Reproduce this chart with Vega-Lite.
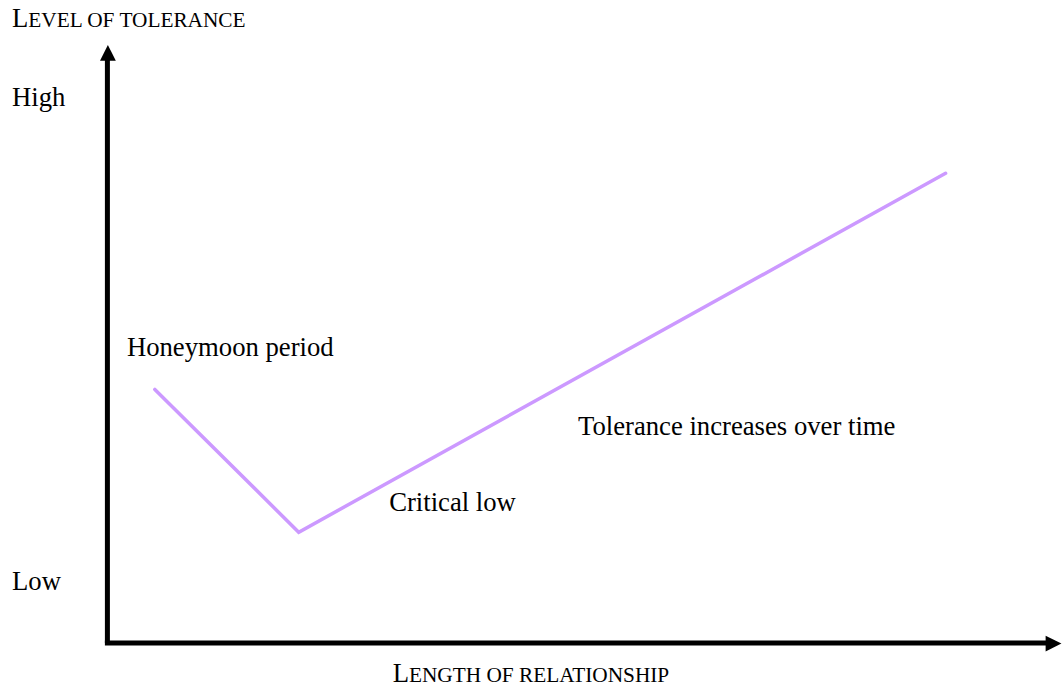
{
  "$schema": "https://vega.github.io/schema/vega-lite/v6.json",
  "width": 1062,
  "height": 688,
  "autosize": {"type": "fit", "contains": "padding"},
  "padding": 0,
  "background": "white",
  "config": {"view": {"stroke": null}},
  "encoding": {
    "x": {"field": "x", "type": "quantitative", "scale": {"domain": [-107.5, 954.5], "nice": false, "zero": false}, "axis": null},
    "y": {"field": "y", "type": "quantitative", "scale": {"domain": [-44, 644], "nice": false, "zero": false}, "axis": null}
  },
  "layer": [
    {
      "data": {"values": [
        {"axis": "tolerance", "x": 0, "y": 0, "x2": 0, "y2": 586},
        {"axis": "length", "x": -2.5, "y": 0, "x2": 948, "y2": 0}
      ]},
      "mark": {"type": "rule", "color": "black", "strokeWidth": 5},
      "encoding": {"x2": {"field": "x2"}, "y2": {"field": "y2"}}
    },
    {
      "data": {"values": [{"x": 0.5, "y": 591}]},
      "mark": {"type": "point", "shape": "M0,-1L-1,1L1,1Z", "filled": true, "color": "black", "opacity": 1, "size": 250}
    },
    {
      "data": {"values": [{"x": 947, "y": -0.5}]},
      "mark": {"type": "point", "shape": "M1,0L-1,-1L-1,1Z", "filled": true, "color": "black", "opacity": 1, "size": 250}
    },
    {
      "data": {"values": [
        {"stage": "Honeymoon period", "x": 47.5, "y": 254},
        {"stage": "Critical low", "x": 191.5, "y": 111},
        {"stage": "Tolerance increases over time", "x": 839, "y": 470.5}
      ]},
      "mark": {"type": "line", "color": "#CC99FF", "strokeWidth": 3.5, "strokeCap": "round"}
    },
    {
      "data": {"values": [
        {"label": "L", "x": -95.5, "y": 617},
        {"label": "L", "x": 285.5, "y": -39},
        {"label": "High", "x": -95.5, "y": 538},
        {"label": "Low", "x": -95.5, "y": 53},
        {"label": "Honeymoon period", "x": 19.5, "y": 287},
        {"label": "Critical low", "x": 282, "y": 132},
        {"label": "Tolerance increases over time", "x": 471, "y": 208}
      ]},
      "mark": {"type": "text", "align": "left", "baseline": "alphabetic", "font": "Liberation Serif", "fontSize": 26.7, "color": "black"},
      "encoding": {"text": {"field": "label"}}
    },
    {
      "data": {"values": [
        {"label": "EVEL OF TOLERANCE", "x": -79.2, "y": 617},
        {"label": "ENGTH OF RELATIONSHIP", "x": 301.8, "y": -39}
      ]},
      "mark": {"type": "text", "align": "left", "baseline": "alphabetic", "font": "Liberation Serif", "fontSize": 21.3, "color": "black"},
      "encoding": {"text": {"field": "label"}}
    }
  ]
}
